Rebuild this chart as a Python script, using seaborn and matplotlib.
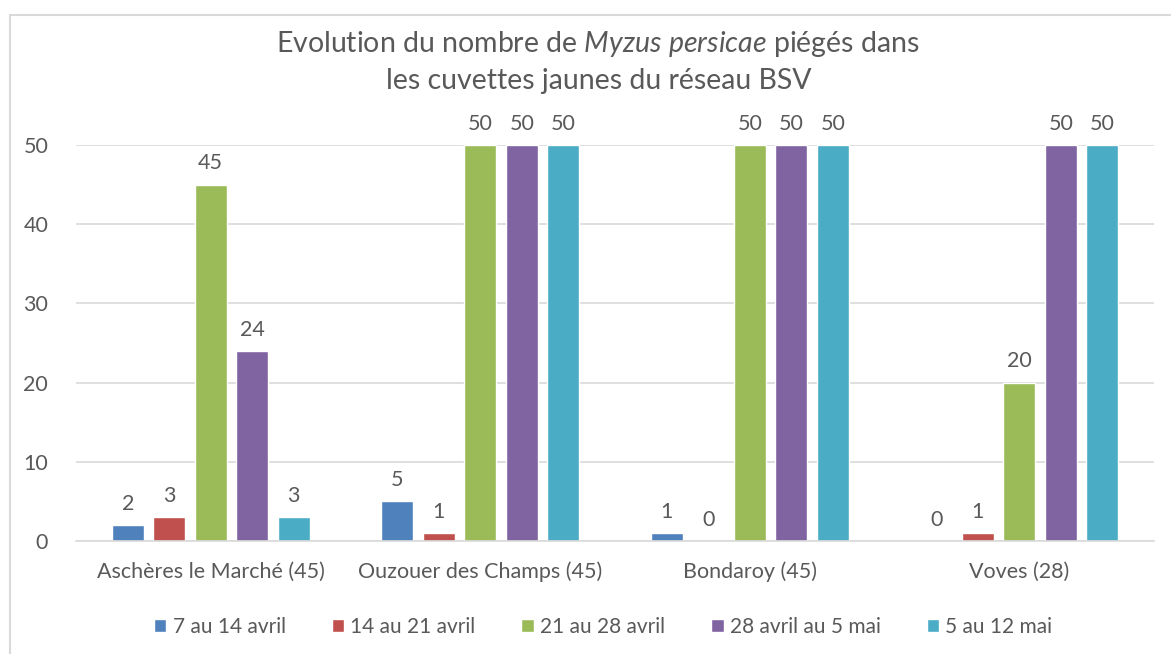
import pandas as pd
import seaborn as sns
import matplotlib.pyplot as plt
from matplotlib.patches import Rectangle

# Data
sites = ['Aschères le Marché (45)', 'Ouzouer des Champs (45)', 'Bondaroy (45)', 'Voves (28)']
periods = ['7 au 14 avril', '14 au 21 avril', '21 au 28 avril', '28 avril au 5 mai', '5 au 12 mai']
p1 = [2, 5, 1, 0]
p2 = [3, 1, 0, 1]
p3 = [45, 50, 50, 20]
p4 = [24, 50, 50, 50]
p5 = [3, 50, 50, 50]
colors = ['#4f81bd', '#c0504d', '#9bbb59', '#8064a2', '#4bacc6']

rows = []
for period, vals in zip(periods, [p1, p2, p3, p4, p5]):
    for site, v in zip(sites, vals):
        rows.append({'site': site, 'period': period, 'count': v})
df = pd.DataFrame(rows)

sns.set_style('white')
plt.rcParams['font.family'] = ['Lato', 'DejaVu Sans']
plt.rcParams['mathtext.fontset'] = 'custom'
plt.rcParams['mathtext.rm'] = 'Lato'
plt.rcParams['mathtext.it'] = 'Lato:italic'

txt = '#595959'
grid = '#d9d9d9'

fig = plt.figure(figsize=(11.71, 6.54), dpi=100)
ax = fig.add_axes([76 / 1171, 1 - 541 / 654, (1154 - 76) / 1171, (541 - 145) / 654])

sns.barplot(data=df, x='site', y='count', hue='period', order=sites, hue_order=periods,
            palette=colors, width=0.77, gap=0.22, saturation=1, ax=ax, legend=True)

for c in ax.containers:
    ax.bar_label(c, padding=8, color=txt, fontsize=15.5)

ax.set_ylim(0, 50)
ax.set_yticks(range(0, 51, 10))
ax.yaxis.grid(True, color=grid, linewidth=1.2)
ax.set_axisbelow(True)
for s in ['top', 'right', 'left']:
    ax.spines[s].set_visible(False)
ax.spines['bottom'].set_color(grid)
ax.spines['bottom'].set_linewidth(1.2)
ax.tick_params(axis='both', length=0, colors=txt, labelsize=15.5)
ax.tick_params(axis='y', pad=20)
ax.tick_params(axis='x', pad=15)
ax.set_xlabel('')
ax.set_ylabel('')

handles, labels = ax.get_legend_handles_labels()
ax.get_legend().remove()
fig.legend(handles, labels, loc='center', bbox_to_anchor=(0.515, 1 - 627 / 654), ncol=5,
           frameon=False, fontsize=15, handlelength=0.6, handleheight=0.6,
           handletextpad=0.3, columnspacing=2.2, labelcolor=txt)

fig.text(0.511, 1 - 44 / 654, r'Evolution du nombre de $\mathit{Myzus\ persicae}$ piégés dans',
         ha='center', va='center', fontsize=20.5, color=txt)
fig.text(0.511, 1 - 81 / 654, 'les cuvettes jaunes du réseau BSV',
         ha='center', va='center', fontsize=20.5, color=txt)

fig.patches.append(Rectangle((10 / 1171, -0.1), 1.2, 1 - 15 / 654 + 0.1, transform=fig.transFigure,
                             fill=False, edgecolor=grid, linewidth=1.5))

fig.savefig('out.png', dpi=100)
